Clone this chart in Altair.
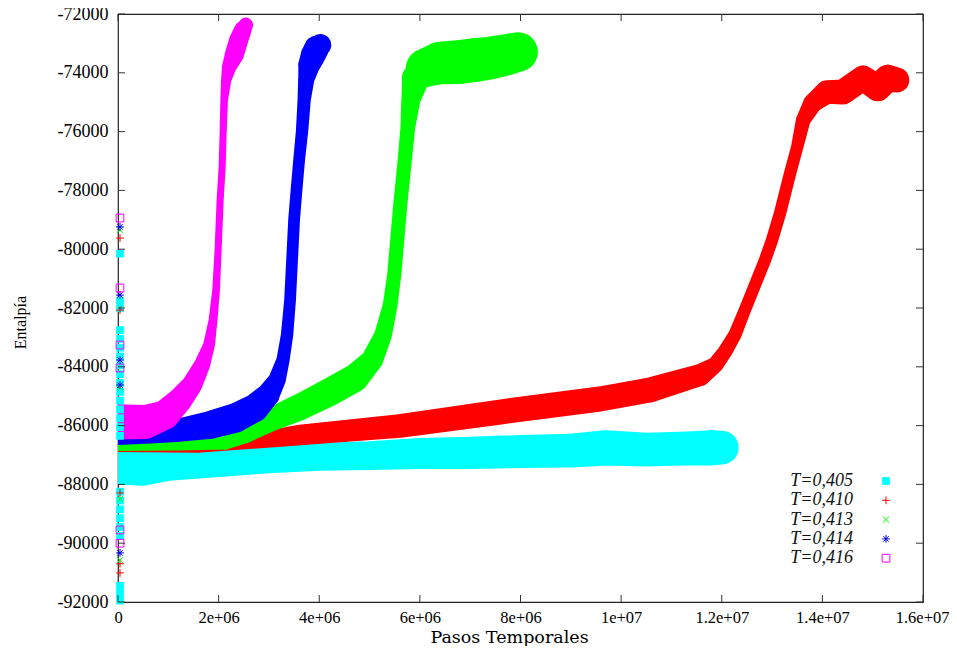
import altair as alt
import pandas as pd

# ---------------- data ----------------
series = ["T=0,405", "T=0,410", "T=0,413", "T=0,414", "T=0,416"]
colors = ["#00ffff", "#ff0000", "#00ff00", "#0000ff", "#ff00ff"]

# band centre (Pasos in millions, Entalpia) and band spread (Entalpia units)
x405 = [0.0, 0.5, 1.0, 2.0, 3.0, 4.0, 5.0, 6.0, 7.0, 8.0, 9.0, 9.7, 10.5, 11.2, 11.8, 12.0]
y405 = [-87350, -87420, -87300, -87220, -87120, -87060, -87020, -86950, -86930, -86880, -86850, -86760, -86820, -86780, -86760, -86750]
s405 = [1300, 1250, 1150, 1050, 1000, 950, 980, 1050, 1100, 1120, 1150, 1200, 1150, 1150, 1200, 1150]

x410 = [0.0, 1.63, 3.62, 5.60, 7.59, 9.58, 10.57, 11.57, 11.87, 12.06, 12.26, 12.46, 12.66, 12.86, 13.00, 13.16, 13.36, 13.50, 13.62, 13.81, 14.09, 14.41, 14.81, 15.10, 15.30, 15.48]
y410 = [-86762, -86745, -86320, -86014, -85538, -85095, -84789, -84279, -83939, -83497, -82918, -82068, -81218, -80367, -79687, -78769, -77408, -76524, -75606, -75027, -74653, -74653, -74177, -74517, -74177, -74245]
s410 = [280, 350, 700, 800, 850, 850, 850, 750, 550, 500, 450, 420, 420, 420, 420, 420, 420, 420, 500, 650, 800, 850, 850, 900, 900, 850]

x413 = [0.0, 1.23, 2.13, 2.52, 3.02, 3.62, 4.21, 4.71, 5.05, 5.27, 5.41, 5.49, 5.55, 5.61, 5.69, 5.76, 5.82, 5.92, 6.10, 6.40, 6.80, 7.10, 7.40, 7.70, 7.95]
y413 = [-86728, -86694, -86592, -86252, -85810, -85367, -84857, -84381, -83769, -82918, -81898, -80878, -79687, -78497, -77136, -75878, -74925, -74177, -73837, -73667, -73633, -73565, -73497, -73395, -73293]
s413 = [280, 300, 450, 700, 800, 900, 950, 950, 750, 600, 500, 480, 480, 480, 480, 500, 650, 950, 1300, 1450, 1500, 1500, 1450, 1400, 1350]

x414 = [0.0, 0.64, 1.23, 1.83, 2.33, 2.72, 2.98, 3.16, 3.28, 3.36, 3.42, 3.46, 3.50, 3.54, 3.60, 3.66, 3.70, 3.74, 3.80, 3.88, 3.95, 4.02]
y414 = [-86388, -86286, -86150, -85980, -85742, -85402, -84959, -84449, -83769, -82918, -81728, -80367, -79007, -78157, -76966, -75946, -74925, -74245, -73735, -73395, -73156, -73054]
s414 = [550, 650, 800, 950, 1000, 950, 800, 600, 450, 420, 400, 400, 400, 400, 400, 420, 450, 550, 750, 850, 850, 750]

x416 = [0.0, 0.54, 0.93, 1.23, 1.47, 1.67, 1.81, 1.89, 1.95, 1.99, 2.03, 2.07, 2.09, 2.11, 2.15, 2.21, 2.31, 2.40, 2.48, 2.54]
y416 = [-85877, -85877, -85640, -85129, -84619, -83939, -83259, -82408, -81388, -80027, -78327, -77204, -76048, -74925, -74245, -73803, -73395, -72884, -72544, -72374]
s416 = [1200, 1150, 1000, 850, 700, 550, 400, 300, 260, 240, 240, 240, 240, 260, 350, 500, 650, 650, 600, 500]

# first samples (scattered vertically at the very start)
spike_x = 0.04
spike405 = [-80150, -81750, -82000, -82750, -83050, -83350, -83650, -83950, -84250, -84550, -84850,
            -85150, -85450, -85750, -86050, -86350, -88250, -88550, -88850, -89150, -89450,
            -89750, -91450, -91700, -91950]
spike410 = [-79620, -82070, -88290, -90700, -91010]
spike413 = [-79350, -84700, -88500, -90570]
spike414 = [-79240, -81560, -83770, -84620, -90330]
spike416 = [-78940, -81320, -83260, -84040, -89550, -90000]

x_ticks = [0, 2, 4, 6, 8, 10, 12, 14, 16]
x_tick_labels = ["0", "2e+06", "4e+06", "6e+06", "8e+06", "1e+07", "1.2e+07", "1.4e+07", "1.6e+07"]
y_ticks = [-92000, -90000, -88000, -86000, -84000, -82000, -80000, -78000, -76000, -74000, -72000]

# ---------------- tables ----------------
bands = []
for name, xs, ys, ss in [
    (series[0], x405, y405, s405), (series[1], x410, y410, s410),
    (series[2], x413, y413, s413), (series[3], x414, y414, s414),
    (series[4], x416, y416, s416)]:
    bands.append(pd.DataFrame({"T": name, "x": xs, "y": ys, "s": ss}))

spike_lists = [spike405, spike410, spike413, spike414, spike416]

W, H = 805, 588
serif = "Liberation Serif"
x_label_expr = "[" + ",".join("'%s'" % l for l in x_tick_labels) + "][round(datum.value/2)]"

xscale = alt.Scale(domain=[0, 16], nice=False, zero=False)
yscale = alt.Scale(domain=[-92000, -72000], nice=False, zero=False)

last_x = "datum.value == %d" % x_ticks[-1]
X = alt.X("x:Q", scale=xscale,
          axis=alt.Axis(values=x_ticks, labelExpr=x_label_expr, ticks=False, domain=False, grid=False,
                        labelFlush=False, labelOverlap=False,
                        labelAlign={"condition": {"test": last_x, "value": "right"}, "value": "center"},
                        labelOffset={"condition": {"test": last_x, "value": 26}, "value": 0},
                        labelFont=serif, labelFontSize=16.5, labelColor="#000", labelPadding=7,
                        title="Pasos Temporales", titleFont="DejaVu Serif", titleFontSize=17.5,
                        titleFontWeight="normal", titleColor="#000", titleX=391, titleY=35,
                        titleBaseline="middle"))
Y = alt.Y("y:Q", scale=yscale,
          axis=alt.Axis(values=y_ticks, labelExpr="'' + datum.value", ticks=False, domain=False, grid=False,
                        labelFlush=False, labelOverlap=False,
                        labelFont=serif, labelFontSize=18, labelColor="#000", labelPadding=10,
                        title="Entalpía", titleFont=serif, titleFontSize=16, titleFontWeight="normal",
                        titleColor="#000", titleX=-98, titleY=308, titleAngle=270,
                        titleBaseline="middle", titleAlign="center"))

size_scale = alt.Scale(domain=[0, 20000], range=[0, H], zero=True)

shape_paths = [
    "square",
    "M-1,0L1,0M0,-1L0,1",
    "M-0.8,-0.8L0.8,0.8M-0.8,0.8L0.8,-0.8",
    "M-1,0L1,0M0,-1L0,1M-0.7,-0.7L0.7,0.7M-0.7,0.7L0.7,-0.7",
    "square",
]
filled = [True, False, False, False, False]

layers = []
for df, col in zip(bands, colors):
    layers.append(
        alt.Chart(df).mark_trail(color=col, clip=True).encode(
            x=X, y=Y, size=alt.Size("s:Q", scale=size_scale, legend=None), order="x:Q"
        )
    )

for name, ys, col, shp, fl in zip(series, spike_lists, colors, shape_paths, filled):
    sdf = pd.DataFrame({"T": name, "x": spike_x, "y": ys})
    layers.append(
        alt.Chart(sdf).mark_point(size=60, strokeWidth=1, opacity=1, shape=shp, filled=fl, color=col).encode(
            x=X, y=Y
        )
    )

# inward tick marks on all four sides
yt = pd.DataFrame({"v": y_ticks})
xt = pd.DataFrame({"v": x_ticks})
tick_col = "#333"
layers.append(alt.Chart(yt).mark_rule(color=tick_col).encode(y=alt.Y("v:Q", scale=yscale), x=alt.value(0), x2=alt.value(7)))
layers.append(alt.Chart(yt).mark_rule(color=tick_col).encode(y=alt.Y("v:Q", scale=yscale), x=alt.value(W - 7), x2=alt.value(W)))
layers.append(alt.Chart(xt).mark_rule(color=tick_col).encode(x=alt.X("v:Q", scale=xscale), y=alt.value(H - 7), y2=alt.value(H)))
layers.append(alt.Chart(xt).mark_rule(color=tick_col).encode(x=alt.X("v:Q", scale=xscale), y=alt.value(0), y2=alt.value(7)))

# key (labels to the left of the symbols, as in the original)
key_x_sym, key_x_lab, key_y0, key_dy = 768, 735, 467, 19.3
for i, (name, col, shp, fl) in enumerate(zip(series, colors, shape_paths, filled)):
    kdf = pd.DataFrame({"T": [name]})
    layers.append(
        alt.Chart(kdf).mark_text(font=serif, fontStyle="italic", fontSize=18, align="right",
                                 baseline="middle", color="#111").encode(
            text="T:N", x=alt.value(key_x_lab), y=alt.value(key_y0 + i * key_dy))
    )
    layers.append(
        alt.Chart(kdf).mark_point(size=60, strokeWidth=1, opacity=1, shape=shp, filled=fl, color=col).encode(
            x=alt.value(key_x_sym), y=alt.value(key_y0 + i * key_dy))
    )

chart = alt.layer(*layers).properties(
    width=W, height=H,
    autosize=alt.AutoSizeParams(type="none"),
    padding={"left": 110, "top": 6, "right": 26, "bottom": 44},
    background="white",
).configure_view(
    stroke="#222", strokeWidth=1.2
)

chart.save("out.html", embed_options={"renderer": "svg", "actions": False})
